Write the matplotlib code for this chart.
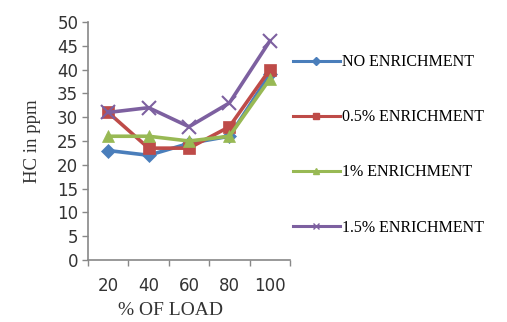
import matplotlib.pyplot as plt
import numpy as np

# HC emission vs engine load for each enrichment level
load = ["20", "40", "60", "80", "100"]
no_enrich = [23, 22, 24.5, 26, 39]
enrich_05 = [31, 23.5, 23.5, 28, 40]
enrich_1 = [26, 26, 25, 26, 38]
enrich_15 = [31, 32, 28, 33, 46]

labels = ["NO ENRICHMENT", "0.5% ENRICHMENT", "1% ENRICHMENT", "1.5% ENRICHMENT"]
colors = ["#4A7EBB", "#BE4B48", "#98B954", "#7D60A0"]
markers = ["D", "s", "^", "x"]
msizes = [7, 9, 8, 10]

fig = plt.figure(figsize=(5.07, 3.22), dpi=100)
ax = fig.add_axes([0.1736, 0.1925, 0.3984, 0.7392])

x = np.arange(len(load))
series = [no_enrich, enrich_05, enrich_1, enrich_15]
for vals, lab, c, m, ms in zip(series, labels, colors, markers, msizes):
    ax.plot(x, vals, color=c, marker=m, markersize=ms, linewidth=2.6,
            markeredgewidth=1.5 if m == "x" else 0.5, label=lab)

ax.set_xlim(-0.5, len(load) - 0.5)
ax.set_ylim(0, 50)
ax.set_yticks(range(0, 51, 5))
ax.set_xticks(x)
ax.set_xticklabels(load)
ax.set_xticks(np.arange(-0.5, len(load)), minor=True)
ax.tick_params(axis="x", which="major", length=0, pad=12)
ax.tick_params(axis="x", which="minor", length=4, color="#888888", width=1)
ax.tick_params(axis="y", length=4, color="#888888", width=1, pad=3)
ax.tick_params(labelsize=12, labelcolor="#333333")

for s in ["top", "right"]:
    ax.spines[s].set_visible(False)
for s in ["left", "bottom"]:
    ax.spines[s].set_color("#888888")
    ax.spines[s].set_linewidth(1.2)

ax.set_ylabel("HC in ppm", family="Liberation Serif", fontsize=13.5, color="#333333", labelpad=12)
ax.set_xlabel("% OF LOAD", family="Liberation Serif", fontsize=14, color="#333333")
ax.xaxis.set_label_coords(0.41, -0.175)

handles = []
for c, m in zip(colors, markers):
    h, = ax.plot([], [], color=c, marker=m, markersize=4, linewidth=2.2)
    handles.append(h)
fig.legend(handles, labels, loc="center left", bbox_to_anchor=(0.55, 0.55),
           frameon=False, prop={"family": "Liberation Serif", "size": 11.5},
           handlelength=2.9, handletextpad=0.15, labelspacing=2.45)

fig.savefig("out.png", dpi=100)
